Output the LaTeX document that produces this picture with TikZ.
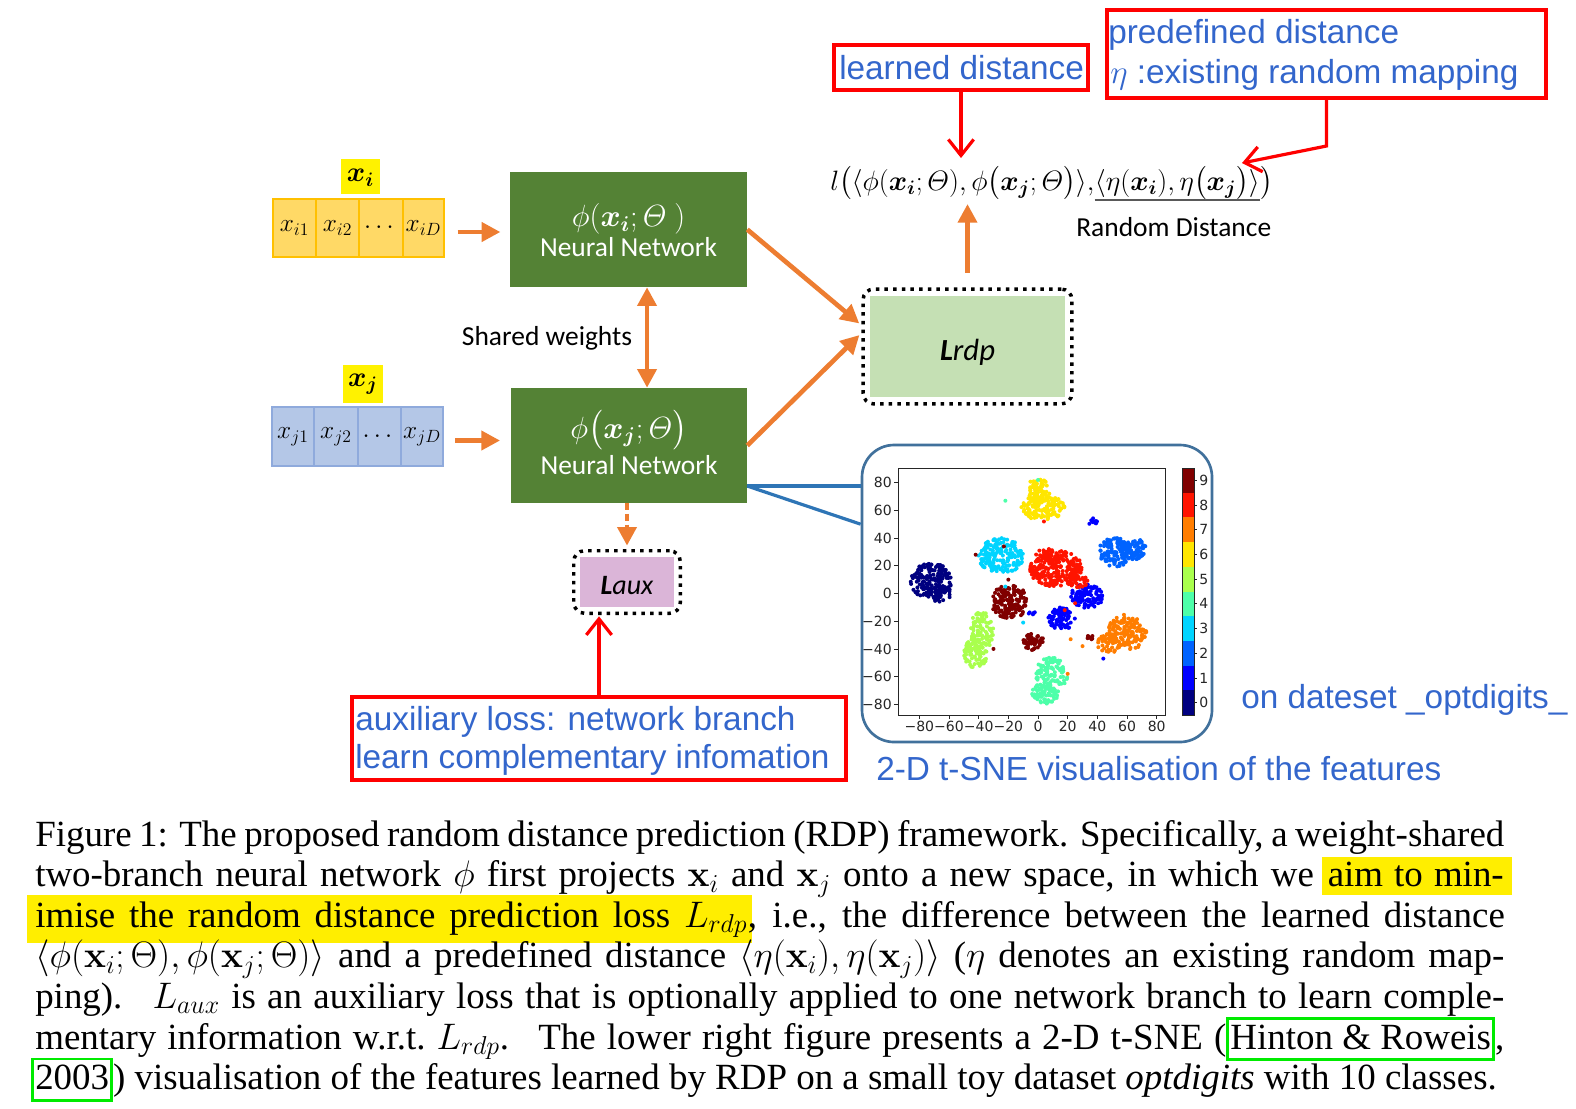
\documentclass[tikz,border=0pt]{standalone}
\usepackage{fix-cm}
\usepackage{amsmath}
\usepackage[no-math]{fontspec}
\setmainfont{Liberation Serif}
\newfontfamily\calibri{Carlito}
\newfontfamily\arialf{Liberation Sans}
\newfontfamily\dejavu{DejaVu Sans}
\usepackage{bm}
\usetikzlibrary{fit,arrows.meta,backgrounds}

\definecolor{orng}{HTML}{ED7D31}
\definecolor{nngreen}{HTML}{548235}
\definecolor{lgreen}{HTML}{C5E0B4}
\definecolor{pinkbox}{HTML}{DBB5D8}
\definecolor{annblue}{HTML}{3366CC}
\definecolor{xiface}{HTML}{FFD966}
\definecolor{xiedge}{HTML}{FFC000}
\definecolor{xjface}{HTML}{B4C7E7}
\definecolor{xjedge}{HTML}{8FAADC}
\definecolor{panelblue}{HTML}{41719C}
\definecolor{linkblue}{HTML}{2E75B6}
\definecolor{hlyellow}{HTML}{FFEE00}
\definecolor{brgreen}{RGB}{0,235,0}
\definecolor{jet0}{RGB}{0,0,128}
\definecolor{jet1}{RGB}{0,0,255}
\definecolor{jet2}{RGB}{0,99,255}
\definecolor{jet3}{RGB}{0,212,255}
\definecolor{jet4}{RGB}{77,255,169}
\definecolor{jet5}{RGB}{169,255,77}
\definecolor{jet6}{RGB}{255,230,0}
\definecolor{jet7}{RGB}{255,125,0}
\definecolor{jet8}{RGB}{255,20,0}
\definecolor{jet9}{RGB}{128,0,0}

\newcommand\annfont{\arialf\fontsize{25}{30}\selectfont}
\newcommand\calfont{\calibri\fontsize{20.6}{24}\selectfont}
\newcommand\nnmathfont{\fontsize{23}{26}\selectfont}
\newcommand\cellfont{\fontsize{19}{22}\selectfont}
\newcommand\tickfont{\dejavu\fontsize{10.5}{12}\selectfont}
\newcommand\capfont{\fontsize{27.7}{30.45}\selectfont}
\newcommand\fmathfont{\fontsize{21}{24}\selectfont}

\newcommand\grn[1]{{\setlength{\fboxsep}{0pt}\setlength{\fboxrule}{2pt}\color{brgreen}\fbox{\color{black}\rule[-7pt]{0pt}{29pt}\kern1pt#1\kern1pt}}}

\newcommand\blob[6]{%
  \foreach \k in {1,...,#6}{%
    \pgfmathsetmacro\ang{360*rnd}%
    \pgfmathsetmacro\rr{sqrt(rnd)}%
    \pgfmathsetmacro\bx{1038+1.484*(#2+#4*\rr*cos(\ang))}%
    \pgfmathsetmacro\by{593.5-1.385*(#3+#5*\rr*sin(\ang))}%
    \fill[#1] (\bx,\by) circle[radius=1.5pt];
  }}
\newcommand\sdot[3]{\fill[#1] ({1038+1.484*(#2)},{593.5-1.385*(#3)}) circle[radius=1.5pt];}

\tikzset{
 redbox/.style={draw=red, line width=2.6pt, inner sep=0pt},
 anntext/.style={font=\annfont, text=annblue, inner sep=0pt},
 nnbox/.style={fill=nngreen, inner sep=0pt},
 nntext/.style={text=white, font=\calfont, inner sep=0pt, anchor=base},
 cellI/.style={draw=xiedge, fill=xiface, line width=1.6pt, inner sep=0pt},
 cellJ/.style={draw=xjedge, fill=xjface, line width=1.6pt, inner sep=0pt},
 celltext/.style={font=\cellfont, inner sep=0pt},
 oarrow/.style={draw=orng, line width=3.5pt, -{Triangle[length=14pt,width=14pt]}},
 obiarrow/.style={draw=orng, line width=3.5pt, {Triangle[length=14pt,width=14pt]}-{Triangle[length=14pt,width=14pt]}},
 odash/.style={draw=orng, line width=3.5pt, dash pattern=on 5pt off 3pt, -{Triangle[length=14pt,width=14pt]}},
 rarrow/.style={draw=red, line width=2.4pt, -{Straight Barb[length=12pt,width=19pt]}},
 dotbox/.style={draw=black, line width=2.6pt, dash pattern=on 2.6pt off 3.9pt, rounded corners=8pt, inner sep=5pt},
 panelbox/.style={draw=panelblue, line width=2pt, rounded corners=24pt, inner sep=0pt},
 callout/.style={draw=linkblue, line width=2.4pt},
 tickmark/.style={draw=black!85, line width=0.6pt},
 ticklabel/.style={font=\tickfont, inner sep=0pt, text=black!85},
 capline/.style={anchor=base west, inner sep=0pt, font=\capfont},
}

\begin{document}
\begin{tikzpicture}[x=0.75pt,y=-0.75pt]
\useasboundingbox (0,0) rectangle (1576,1108);

% ---------- annotation boxes (top)
\node[redbox, fit={(834,45)(1088,90)}] (ld) {};
\node[anntext, anchor=west] (ldtext) at (839,68) {learned distance};
\node[redbox, fit={(1107,10)(1546,98)}] (pd) {};
\node[anntext, anchor=west] (pdt1) at (1108,35) {predefined distance};
\node[anntext, anchor=west] (pdt2) at (1110,75) {$\eta$ :existing random mapping};

% ---------- formula
\node[anchor=base west, inner sep=0pt, font=\fmathfont] (fA) at (830,190)
  {$l\big(\langle\phi(\bm{x}_{\bm{i}};\varTheta),\phi\big(\bm{x}_{\bm{j}};\varTheta\big)\rangle,$};
\node[anchor=base west, inner sep=0pt, font=\fmathfont] (fB) at (fA.base east)
  {$\langle\eta(\bm{x}_{\bm{i}}),\eta\big(\bm{x}_{\bm{j}}\big)\rangle$};
\node[anchor=base west, inner sep=0pt, font=\fmathfont] (fC) at (fB.base east) {$\big)$};
\draw[black!65, line width=1.6pt] (fB.south west) -- (fB.south east);
\node[font=\calfont, anchor=west, inner sep=0pt] (rd) at (1076,227) {Random Distance};

\coordinate (ldtip) at (961,158);
\coordinate (pdbend) at (1326.5,146);
\coordinate (pdtip) at (1242,163);
\draw[rarrow] (ld.south) -- (ldtip);
\draw[rarrow] (pd.south) -- (pdbend) -- (pdtip);

% ---------- inputs
\node[fill=yellow, inner sep=0pt, fit={(341,159)(380,194)}] (xil) {};
\node[font=\fontsize{21}{24}\selectfont, inner sep=0pt] (xilt) at ([yshift=-1pt]xil.center) {$\bm{x_i}$};
\node[inner sep=0pt, fit={(273,199)(444,257)}] (vi) {};
\foreach \a/\b [count=\c] in {273/316, 316/359, 359/403, 403/444}
  {\node[cellI, fit={(\a,199)(\b,257)}] (vi\c) {};}
\node[celltext] (vi1t) at (vi1.center) {$x_{i1}$};
\node[celltext] (vi2t) at (vi2.center) {$x_{i2}$};
\node[celltext] (vi3t) at (vi3.center) {$\cdots$};
\node[celltext] (vi4t) at (vi4.center) {$x_{iD}$};

\node[fill=yellow, inner sep=0pt, fit={(343,365)(383,403)}] (xjl) {};
\node[font=\fontsize{21}{24}\selectfont, inner sep=0pt] (xjlt) at (xjl.center) {$\bm{x_j}$};
\node[inner sep=0pt, fit={(272,407)(443,466)}] (vj) {};
\foreach \a/\b [count=\c] in {272/314, 314/358, 358/401, 401/443}
  {\node[cellJ, fit={(\a,407)(\b,466)}] (vj\c) {};}
\node[celltext] (vj1t) at (vj1.center) {$x_{j1}$};
\node[celltext] (vj2t) at (vj2.center) {$x_{j2}$};
\node[celltext] (vj3t) at (vj3.center) {$\cdots$};
\node[celltext] (vj4t) at (vj4.center) {$x_{jD}$};

% ---------- networks
\node[nnbox, fit={(510,172)(747,287)}] (nn1) {};
\node[nntext, font=\nnmathfont] (nn1a) at ([yshift=2pt]nn1.center) {$\phi(\bm{x}_{\bm{i}};\varTheta\ )$};
\node[nntext] (nn1b) at ([yshift=-19.9pt]nn1.center) {Neural Network};
\node[nnbox, fit={(511,388)(747,503)}] (nn2) {};
\node[nntext, font=\nnmathfont] (nn2a) at ([yshift=5.6pt]nn2.center) {$\phi\big(\bm{x}_{\bm{j}};\varTheta\big)$};
\node[nntext] (nn2b) at ([yshift=-21.4pt]nn2.center) {Neural Network};
\node[font=\calfont, inner sep=0pt] (sw) at (547,338) {Shared weights};

\draw[oarrow, shorten <=10pt, shorten >=7pt] ([yshift=-3pt]vi.east) -- ([yshift=-3pt]vi.east -| nn1.west);
\draw[oarrow, shorten <=9pt, shorten >=8pt] ([yshift=-3pt]vj.east) -- ([yshift=-3pt]vj.east -| nn2.west);
\draw[obiarrow] ([xshift=13.9pt]nn1.south) -- ([xshift=13.9pt]nn1.south |- nn2.north);

% ---------- losses
\node[fill=lgreen, inner sep=0pt, fit={(870,296)(1065,397)}] (lrdp) {};
\node[font=\calibri\fontsize{23}{28}\selectfont, inner sep=0pt] (lrdpt) at ([yshift=-4.5pt]lrdp.center) {\textbf{\textit{L}}\textit{rdp}};
\node[dotbox, fit=(lrdp)] (lrdpb) {};
\draw[oarrow, shorten >=2pt] (nn1.east) -- ([yshift=16pt]lrdpb.west);
\draw[oarrow, shorten >=2pt] (nn2.east) -- ([yshift=10pt]lrdpb.west);
\coordinate (rdptip) at (967.5,204);
\draw[oarrow, shorten <=11pt] (lrdpb.north) -- (rdptip);

\node[fill=pinkbox, inner sep=0pt, fit={(580,557)(674,607)}] (laux) {};
\node[font=\calibri\fontsize{21}{26}\selectfont, inner sep=0pt] (lauxt) at ([yshift=-3pt]laux.center) {\textbf{\textit{L}}\textit{aux}};
\node[dotbox, fit=(laux), inner sep=4.5pt] (lauxb) {};
\draw[odash, shorten >=2.5pt] (nn2.south -| lauxb.north) -- (lauxb.north);

\node[redbox, fit={(352,697)(846,780)}] (auxnote) {};
\node[anntext, anchor=west] (aux1) at (355,722) {auxiliary loss: network branch};
\node[anntext, anchor=west] (aux2) at (355,760) {learn complementary infomation};
\draw[rarrow, shorten >=1pt] (auxnote.north) -- (auxnote.north |- lauxb.south);

% ---------- t-SNE panel
\node[panelbox, fit={(862,445)(1212,742)}] (panel) {};
\draw[callout] ([yshift=-30.4pt]nn2.east) -- ([yshift=80.6pt]panel.west);
\draw[callout] ([yshift=-30.4pt]nn2.east) -- ([yshift=52pt]panel.west);

\pgfmathsetseed{7}
\blob{jet0}{-72}{9}{14}{13}{170}
\blob{jet0}{-66}{0}{8}{6}{40}
\blob{jet1}{33}{-2}{11}{9}{110}
\blob{jet1}{16}{-18}{9}{8}{80}
\blob{jet1}{37}{52}{3}{3}{10}
\blob{jet1}{-5}{-14}{3}{1.5}{6}
\blob{jet2}{52}{30}{11}{11}{120}
\blob{jet2}{64}{32}{9}{8}{80}
\blob{jet3}{-25}{27}{15}{13}{190}
\blob{jet4}{9}{-58}{11}{12}{110}
\blob{jet4}{5}{-72}{9}{8}{70}
\blob{jet5}{-38}{-27}{8}{14}{100}
\blob{jet5}{-42}{-43}{8}{11}{80}
\blob{jet6}{0}{74}{8}{9}{70}
\blob{jet6}{3}{62}{15}{9}{130}
\blob{jet7}{60}{-28}{13}{13}{150}
\blob{jet7}{48}{-36}{8}{7}{50}
\blob{jet8}{12}{18}{18}{13}{220}
\blob{jet8}{6}{26}{8}{7}{40}
\blob{jet8}{26}{10}{8}{6}{40}
\blob{jet9}{-19}{-6}{13}{12}{160}
\blob{jet9}{-3}{-35}{7}{6}{50}
\blob{jet9}{36}{-31}{3}{2.5}{8}
\sdot{jet4}{-22}{67}\sdot{jet8}{4}{52}\sdot{jet9}{-23}{34}\sdot{jet9}{-42}{28}
\sdot{jet9}{-30}{-40}\sdot{jet7}{22}{-33}\sdot{jet7}{30}{-38}\sdot{jet1}{44}{-47}
\sdot{jet3}{-10}{-21}\sdot{jet8}{25}{-7}\sdot{jet8}{18}{-12}\sdot{jet4}{0}{82}
\sdot{jet7}{20}{-58}\sdot{jet3}{-22}{5}\sdot{jet9}{-20}{10}

\draw[tickmark] (898,468) rectangle (1165,715);
\foreach \v in {-80,-60,...,80}{
  \pgfmathsetmacro\xx{1038+1.484*\v}
  \pgfmathsetmacro\yy{593.5-1.385*\v}
  \draw[tickmark] (\xx,715) -- (\xx,719);
  \draw[tickmark] (894,\yy) -- (898,\yy);
  \node[ticklabel, anchor=north] (xl\v) at (\xx,721) {\ifnum\v<0 −\the\numexpr-\v\relax\else\v\fi};
  \node[ticklabel, anchor=east] (yl\v) at (892,\yy) {\ifnum\v<0 −\the\numexpr-\v\relax\else\v\fi};
}
\foreach \k in {0,...,9}{
  \fill[jet\k] (1182,{715-24.7*(\k+1)}) rectangle (1194,{715-24.7*\k});
  \draw[tickmark] (1194,{715-24.7*(\k+0.5)}) -- (1197,{715-24.7*(\k+0.5)});
  \node[ticklabel, anchor=west] (cb\k) at (1199,{715-24.7*(\k+0.5)}) {\k};
}
\draw[tickmark] (1182,468) rectangle (1194,715);

\node[anntext, anchor=west] (ondata) at (1241,700) {on dateset \_optdigits\_};
\node[anntext, anchor=west] (tsne) at (876,769) {2-D t-SNE visualisation of the features};

% ---------- caption
\node[capline] (cap1) at (35,846) {\makebox[1101.75pt][s]{Figure 1: The proposed random distance prediction (RDP) framework. Specifically, a weight-shared}};
\node[capline] (cap2a) at (35,886.6) {\makebox[959pt][s]{two-branch neural network $\phi$ first projects $\mathbf{x}_i$ and $\mathbf{x}_j$ onto a new space, in which we}};
\node[capline, anchor=base east] (cap2b) at (1504,886.6) {\makebox[132pt][s]{aim to min-}};
\node[capline] (cap3a) at (35,927.2) {\makebox[534pt][s]{imise the random distance prediction loss $L_{rdp}$}};
\node[capline] (cap3b) at (cap3a.base east) {\makebox[567.75pt][s]{, i.e., the difference between the learned distance}};
\node[capline] (cap4) at (35,967.8) {\makebox[1101.75pt][s]{$\langle\phi(\mathbf{x}_i;\Theta),\phi(\mathbf{x}_j;\Theta)\rangle$ and a predefined distance $\langle\eta(\mathbf{x}_i),\eta(\mathbf{x}_j)\rangle$ ($\eta$ denotes an existing random map-}};
\node[capline] (cap5) at (35,1008.4) {\makebox[1101.75pt][s]{ping). \ $L_{aux}$ is an auxiliary loss that is optionally applied to one network branch to learn comple-}};
\node[capline] (cap6) at (35,1049) {\makebox[1101.75pt][s]{mentary information w.r.t.\ $L_{rdp}$. \ The lower right figure presents a 2-D t-SNE (\grn{Hinton \& Roweis},}};
\node[capline] (cap7) at (35,1089.6) {\kern-3pt\grn{2003}) visualisation of the features learned by RDP on a small toy dataset \textit{optdigits} with 10 classes.};

\begin{scope}[on background layer]
  \fill[white] (0,0) rectangle (1576,1108);
  \fill[hlyellow] ([xshift=-4pt,yshift=22pt]cap2b.base west) rectangle ([xshift=6pt,yshift=-6pt]cap2b.base east);
  \fill[hlyellow] ([xshift=-6pt,yshift=24pt]cap3a.base west) rectangle ([xshift=3pt,yshift=-12pt]cap3a.base east);
\end{scope}
\end{tikzpicture}
\end{document}
